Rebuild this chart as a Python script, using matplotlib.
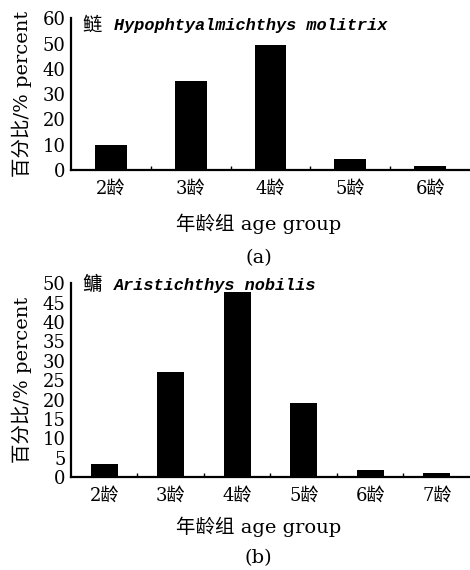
import matplotlib
matplotlib.use("Agg")
import matplotlib.pyplot as plt

# panel (a): silver carp
ages_a = ["2龄", "3龄", "4龄", "5龄", "6龄"]
pct_a = [10.0, 35.3, 49.6, 4.2, 1.4]
# panel (b): bighead carp
ages_b = ["2龄", "3龄", "4龄", "5龄", "6龄", "7龄"]
pct_b = [3.3, 27.0, 47.8, 19.0, 1.8, 1.0]

ser = ["DejaVu Serif", "Noto Sans CJK SC"]
mono = ["Liberation Mono", "Noto Sans CJK SC"]

fig = plt.figure(figsize=(4.7, 5.7), dpi=100)
ax1 = fig.add_axes([0.151, 0.702, 0.849, 0.266])
ax2 = fig.add_axes([0.151, 0.163, 0.849, 0.340])


def draw(ax, ages, pct, ymax, ystep, title, tag, xlab_y, tag_y, title_y):
    x = list(range(1, len(ages) + 1))
    ax.bar(x, pct, width=0.4, color="black")
    ax.set_xlim(0.5, len(ages) + 0.5)
    ax.set_ylim(0, ymax)
    for s in ["top", "right"]:
        ax.spines[s].set_visible(False)
    for s in ["left", "bottom"]:
        ax.spines[s].set_linewidth(1.6)
    ax.set_xticks(x)
    ax.set_xticklabels(ages, family=ser, fontsize=13)
    ax.set_xticks([i + 0.5 for i in x[:-1]], minor=True)
    ax.tick_params(axis="x", which="major", length=0, pad=7)
    ax.tick_params(axis="x", which="minor", direction="in", length=3, width=1)
    ax.set_yticks(range(0, ymax + 1, ystep))
    ax.set_yticklabels([str(v) for v in range(0, ymax + 1, ystep)], family=ser, fontsize=13)
    ax.set_yticks([ymax], minor=True)
    ax.tick_params(axis="y", which="major", length=0, pad=4)
    ax.tick_params(axis="y", which="minor", direction="in", length=4, width=1.2)
    ax.set_ylabel("百分比/% percent", family=ser, fontsize=14)
    ax.yaxis.set_label_coords(-0.098, 0.5)
    ax.set_xlabel("年龄组 age group", family=ser, fontsize=14)
    ax.xaxis.set_label_coords(0.47, xlab_y)
    ax.text(0.028, title_y, title[0], transform=ax.transAxes, family=ser,
            fontsize=14, va="center", ha="left")
    ax.text(0.108, title_y, title[1], transform=ax.transAxes, family=mono,
            style="italic", weight="bold", fontsize=12.2, va="center", ha="left")
    ax.text(0.47, tag_y, tag, transform=ax.transAxes, family=ser,
            fontsize=14, ha="center", va="center")


draw(ax1, ages_a, pct_a, 60, 10, ("鲢", "Hypophtyalmichthys molitrix"), "(a)", -0.29, -0.58, 0.95)
draw(ax2, ages_b, pct_b, 50, 5, ("鳙", "Aristichthys nobilis"), "(b)", -0.205, -0.42, 0.99)

fig.savefig("out.png", dpi=100)
